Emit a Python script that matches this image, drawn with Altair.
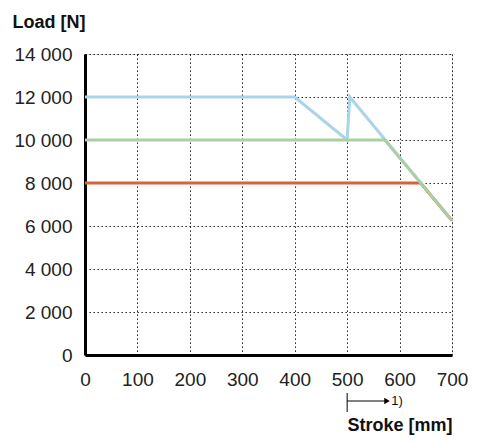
import altair as alt
import pandas as pd

# Data
blue_x = [0, 400, 500, 505, 700]
blue_y = [12000, 12000, 10000, 12000, 6250]
green_x = [0, 572, 700]
green_y = [10000, 10000, 6250]
red_x = [0, 640, 700]
red_y = [8000, 8000, 6250]
x_ticks = [0, 100, 200, 300, 400, 500, 600, 700]
y_ticks = [0, 2000, 4000, 6000, 8000, 10000, 12000, 14000]
note_start = 500
note_end = 576
note_text_x = 584

FONT = "Liberation Sans"
LSIZE = 19

def series(xs, ys):
    return pd.DataFrame({"stroke": xs, "load": ys, "i": list(range(len(xs)))})

xscale = alt.Scale(domain=[0, 700], nice=False, zero=False)
yscale = alt.Scale(domain=[0, 14000], nice=False)

xaxis = alt.Axis(values=x_ticks, grid=True, gridColor="#000", gridDash=[1.3, 2.7], gridWidth=1,
                 ticks=False, domainColor="#000", domainWidth=3, labelFont=FONT, labelFontSize=LSIZE,
                 labelColor="#222", labelPadding=15, labelFlush=False, labelOverlap=False,
                 title="Stroke [mm]", titleFont=FONT,
                 titleFontSize=18, titleFontWeight="bold", titleColor="#111", titleAnchor="end",
                 titleAlign="right", titleBaseline="alphabetic", titleX=367, titleY=75)
yaxis = alt.Axis(values=y_ticks, grid=True, gridColor="#000", gridDash=[1.3, 2.7], gridWidth=1,
                 ticks=False, domainColor="#000", domainWidth=3, labelFont=FONT, labelFontSize=LSIZE,
                 labelColor="#222", labelPadding=13, labelFlush=False, labelOverlap=False,
                 labelExpr="replace(format(datum.value, ','), ',', ' ')",
                 title="Load [N]", titleFont=FONT, titleFontSize=18, titleFontWeight="bold",
                 titleColor="#111", titleAngle=0, titleAlign="left", titleBaseline="alphabetic",
                 titleX=-73, titleY=-27)

X = lambda f: alt.X(f, type="quantitative", scale=xscale, axis=xaxis)

def line(df, color):
    return alt.Chart(df).mark_line(color=color, strokeWidth=3).encode(
        x=X("stroke"),
        y=alt.Y("load:Q", scale=yscale, axis=yaxis),
        order="i:Q",
    )

blue = line(series(blue_x, blue_y), "#a9d4ea")
red = line(series(red_x, red_y), "#d8623c")
green = line(series(green_x, green_y), "#a9cfa3")

note_df = pd.DataFrame({"x": [note_start], "x2": [note_end], "tx": [note_text_x], "t": ["1)"]})
vtick = alt.Chart(note_df).mark_rule(color="#000", strokeWidth=1).encode(
    x=X("x"), y=alt.value(339), y2=alt.value(358))
hline = alt.Chart(note_df).mark_rule(color="#000", strokeWidth=1).encode(
    x=X("x"), x2="x2:Q", y=alt.value(347))
head = alt.Chart(note_df).mark_point(shape="triangle-right", filled=True, color="#000", size=40,
                                     opacity=1).encode(
    x=X("x2"), y=alt.value(347))
ntext = alt.Chart(note_df).mark_text(font=FONT, fontSize=13, align="left", baseline="middle",
                                     color="#111").encode(
    x=X("tx"), y=alt.value(347), text="t:N")

chart = alt.layer(blue, red, green, vtick, hline, head, ntext).properties(
    width=367, height=301,
    autosize=alt.AutoSizeParams(type="none"),
    padding={"left": 77, "top": 46, "right": 17, "bottom": 80},
).configure_view(strokeWidth=0).configure(background="white")

chart.save("out.html", embed_options={"renderer": "svg", "actions": False})
